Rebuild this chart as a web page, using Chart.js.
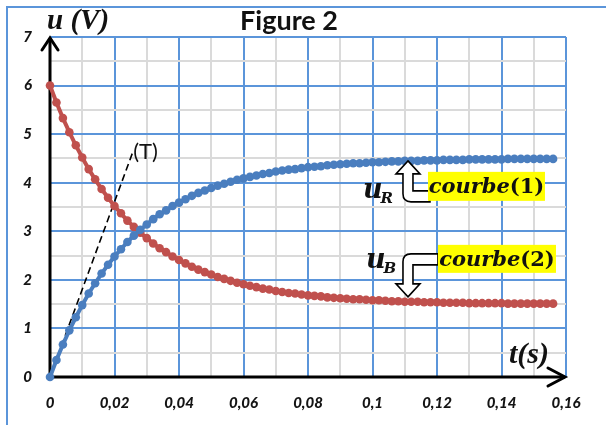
<!DOCTYPE html>
<html>
<head>
<meta charset="utf-8">
<script src="https://cdn.jsdelivr.net/npm/chart.js@4/dist/chart.umd.min.js"></script>
<style>
  html, body { margin: 0; padding: 0; background: #fff; }
  #wrap { width: 606px; height: 425px; }
</style>
</head>
<body>
<div id="wrap"><canvas id="c" width="606" height="425"></canvas></div>
<script>
// Sampling instants t (s)
const times = [
  0, 0.002, 0.004, 0.006, 0.008, 0.010, 0.012, 0.014, 0.016, 0.018,
  0.020, 0.022, 0.024, 0.026, 0.028, 0.030, 0.032, 0.034, 0.036, 0.038,
  0.040, 0.042, 0.044, 0.046, 0.048, 0.050, 0.052, 0.054, 0.056, 0.058,
  0.060, 0.062, 0.064, 0.066, 0.068, 0.070, 0.072, 0.074, 0.076, 0.078,
  0.080, 0.082, 0.084, 0.086, 0.088, 0.090, 0.092, 0.094, 0.096, 0.098,
  0.100, 0.102, 0.104, 0.106, 0.108, 0.110, 0.112, 0.114, 0.116, 0.118,
  0.120, 0.122, 0.124, 0.126, 0.128, 0.130, 0.132, 0.134, 0.136, 0.138,
  0.140, 0.142, 0.144, 0.146, 0.148, 0.150, 0.152, 0.154, 0.156
];

// courbe (1) : u_R (V)
const uR = [
  0, 0.35, 0.67, 0.96, 1.23, 1.48, 1.72, 1.93, 2.13, 2.31,
  2.48, 2.63, 2.78, 2.91, 3.03, 3.14, 3.25, 3.35, 3.43, 3.52,
  3.59, 3.66, 3.73, 3.79, 3.84, 3.89, 3.94, 3.98, 4.02, 4.06,
  4.09, 4.12, 4.15, 4.18, 4.20, 4.23, 4.25, 4.27, 4.28, 4.30,
  4.32, 4.33, 4.34, 4.36, 4.37, 4.38, 4.39, 4.40, 4.40, 4.41,
  4.42, 4.42, 4.43, 4.44, 4.44, 4.45, 4.45, 4.45, 4.46, 4.46,
  4.46, 4.47, 4.47, 4.47, 4.47, 4.48, 4.48, 4.48, 4.48, 4.48,
  4.48, 4.49, 4.49, 4.49, 4.49, 4.49, 4.49, 4.49, 4.49
];

// courbe (2) : u_B (V)
const uB = [
  6, 5.65, 5.33, 5.04, 4.77, 4.52, 4.28, 4.07, 3.87, 3.69,
  3.52, 3.37, 3.22, 3.09, 2.97, 2.86, 2.75, 2.65, 2.57, 2.48,
  2.41, 2.34, 2.27, 2.21, 2.16, 2.11, 2.06, 2.02, 1.98, 1.94,
  1.91, 1.88, 1.85, 1.82, 1.80, 1.77, 1.75, 1.73, 1.72, 1.70,
  1.68, 1.67, 1.66, 1.64, 1.63, 1.62, 1.61, 1.60, 1.60, 1.59,
  1.58, 1.58, 1.57, 1.56, 1.56, 1.55, 1.55, 1.55, 1.54, 1.54,
  1.54, 1.53, 1.53, 1.53, 1.53, 1.52, 1.52, 1.52, 1.52, 1.52,
  1.52, 1.51, 1.51, 1.51, 1.51, 1.51, 1.51, 1.51, 1.51
];

// Tangent (T) at the origin
const tangentT = [0, 0.0255];
const tangentU = [0, 4.6];

// Axis ranges and graduations
const xMin = 0, xMax = 0.16, xStep = 0.01;
const yMin = 0, yMax = 7, yStep = 0.5;

const BLUE = '#4A7EBF';
const RED = '#C0504D';
const GRID_MAJOR = '#5B95DA';
const GRID_MINOR = '#DADADA';

const toXY = (xs, ys) => xs.map((x, i) => ({ x: x, y: ys[i] }));

function fmtComma(v) {
  const r = Math.round(v * 100) / 100;
  return String(r).replace('.', ',');
}

function bentArrow(c, tx, ty, s, barFarY, barEndX) {
  // s = 1: head points up, bar at the bottom; s = -1: head points down, bar at the top
  const hw = 12, hh = 13, sw = 5, bt = 11, r = 8;
  c.beginPath();
  c.moveTo(tx, ty);
  c.lineTo(tx + hw, ty + s * hh);
  c.lineTo(tx + sw, ty + s * hh);
  c.lineTo(tx + sw, barFarY - s * bt);
  c.lineTo(barEndX, barFarY - s * bt);
  c.lineTo(barEndX, barFarY);
  c.lineTo(tx - sw + r, barFarY);
  c.quadraticCurveTo(tx - sw, barFarY, tx - sw, barFarY - s * r);
  c.lineTo(tx - sw, ty + s * hh);
  c.lineTo(tx - hw, ty + s * hh);
  c.closePath();
  c.fillStyle = '#fff';
  c.fill();
  c.lineWidth = 1.6;
  c.strokeStyle = '#000';
  c.lineJoin = 'miter';
  c.stroke();
}

function subLabel(c, x, y, main, sub) {
  c.fillStyle = '#111';
  c.textAlign = 'left';
  c.textBaseline = 'alphabetic';
  c.font = 'italic bold 27px "DejaVu Serif"';
  c.fillText(main, x, y);
  const w = c.measureText(main).width;
  c.font = 'italic bold 15px "DejaVu Serif"';
  c.fillText(sub, x + w - 2, y + 5);
}

function highlighted(c, x, y, w, h, word, num) {
  c.fillStyle = '#FFFF00';
  c.fillRect(x, y, w, h);
  c.fillStyle = '#111';
  c.textBaseline = 'alphabetic';
  c.textAlign = 'left';
  c.font = 'italic bold 21px "DejaVu Serif"';
  const w1 = c.measureText(word).width;
  c.font = 'bold 21px "DejaVu Serif"';
  const w2 = c.measureText(num).width;
  const x0 = x + (w - w1 - w2) / 2;
  const base = y + h / 2 + 7;
  c.font = 'italic bold 21px "DejaVu Serif"';
  c.fillText(word, x0, base);
  c.font = 'bold 21px "DejaVu Serif"';
  c.fillText(num, x0 + w1, base);
}

const decor = {
  id: 'decor',
  beforeDraw(chart) {
    const c = chart.ctx;
    c.save();
    c.fillStyle = '#fff';
    c.fillRect(0, 0, chart.width, chart.height);
    c.strokeStyle = '#5B95DA';
    c.lineWidth = 2;
    c.beginPath();
    c.moveTo(7, chart.height);
    c.lineTo(7, 7);
    c.lineTo(chart.width, 7);
    c.stroke();
    c.restore();
  },
  beforeDatasetsDraw(chart) {
    // axes with arrow heads
    const c = chart.ctx;
    const a = chart.chartArea;
    c.save();
    c.strokeStyle = '#000';
    c.lineWidth = 3;
    c.lineCap = 'butt';
    c.beginPath();
    c.moveTo(a.left, a.bottom);
    c.lineTo(a.left, a.top + 1);
    c.moveTo(a.left, a.bottom);
    c.lineTo(a.right - 1, a.bottom);
    c.stroke();
    c.lineCap = 'round';
    c.lineJoin = 'miter';
    c.beginPath();
    c.moveTo(a.left - 8, a.top + 13);
    c.lineTo(a.left, a.top + 1);
    c.lineTo(a.left + 8, a.top + 13);
    c.moveTo(a.right - 18, a.bottom - 9);
    c.lineTo(a.right - 1, a.bottom);
    c.lineTo(a.right - 18, a.bottom + 9);
    c.stroke();
    c.restore();
  },
  afterDraw(chart) {
    const c = chart.ctx;
    const xs = chart.scales.x, ys = chart.scales.y;
    const a = chart.chartArea;
    c.save();

    // Title
    c.fillStyle = '#111';
    c.font = 'bold 27px Lato';
    c.textAlign = 'center';
    c.textBaseline = 'alphabetic';
    c.fillText('Figure 2', 289, 30);

    // Axis names
    c.textAlign = 'left';
    c.font = 'italic bold 29px "Liberation Serif"';
    c.fillText('u (V)', a.left - 3, 29);
    c.font = 'italic bold 30px "Liberation Serif"';
    c.fillText('t(s)', a.right - 57, a.bottom - 14);

    // Tangent name
    const tEnd = { x: xs.getPixelForValue(tangentT[1]), y: ys.getPixelForValue(tangentU[1]) };
    c.font = '22px Lato';
    c.fillText('(T)', tEnd.x + 1, tEnd.y + 5);

    // Curve (1) annotation
    const p1 = { x: xs.getPixelForValue(0.111), y: ys.getPixelForValue(4.45) };
    bentArrow(c, p1.x, p1.y, 1, p1.y + 41, p1.x + 22);
    highlighted(c, p1.x + 20, p1.y + 11, 117, 29, 'courbe', '(1)');
    subLabel(c, p1.x - 45, p1.y + 37, 'u', 'R');

    // Curve (2) annotation
    const p2 = { x: xs.getPixelForValue(0.111), y: ys.getPixelForValue(1.65) };
    bentArrow(c, p2.x, p2.y, -1, p2.y - 43, p2.x + 30);
    highlighted(c, p2.x + 30, p2.y - 52, 118, 28, 'courbe', '(2)');
    subLabel(c, p2.x - 42, p2.y - 29, 'u', 'B');

    c.restore();
  }
};

const isMajorX = v => Math.round(v * 100) % 2 === 0;
const isMajorY = v => Math.abs(v - Math.round(v)) < 1e-6;

new Chart(document.getElementById('c'), {
  type: 'scatter',
  data: {
    datasets: [
      {
        label: 'u_R',
        data: toXY(times, uR),
        showLine: true,
        borderColor: BLUE,
        backgroundColor: BLUE,
        borderWidth: 4,
        pointRadius: 4.3,
        pointBorderWidth: 0,
        clip: false
      },
      {
        label: 'u_B',
        data: toXY(times, uB),
        showLine: true,
        borderColor: RED,
        backgroundColor: RED,
        borderWidth: 4,
        pointRadius: 4.3,
        pointBorderWidth: 0,
        clip: false
      },
      {
        label: '(T)',
        data: toXY(tangentT, tangentU),
        showLine: true,
        borderColor: '#000',
        borderWidth: 1.6,
        borderDash: [7, 4],
        pointRadius: 0,
        clip: false
      }
    ]
  },
  options: {
    responsive: false,
    animation: false,
    devicePixelRatio: 1,
    layout: { padding: { left: 8, right: 40, top: 37, bottom: 8 } },
    plugins: { legend: { display: false }, tooltip: { enabled: false }, title: { display: false } },
    scales: {
      x: {
        type: 'linear',
        min: xMin, max: xMax,
        afterFit: s => { s.height = 40; },
        border: { display: false },
        grid: {
          drawTicks: false,
          lineWidth: 2,
          color: ctx => (ctx.tick && isMajorX(ctx.tick.value)) ? GRID_MAJOR : GRID_MINOR
        },
        ticks: {
          stepSize: xStep,
          autoSkip: false,
          maxRotation: 0,
          padding: 17,
          color: '#141414',
          font: { family: 'Lato', size: 15, style: 'italic', weight: '900' },
          callback: v => isMajorX(v) ? fmtComma(v) : ''
        }
      },
      y: {
        type: 'linear',
        min: yMin, max: yMax,
        afterFit: s => { s.width = 42; },
        border: { display: false },
        grid: {
          drawTicks: false,
          lineWidth: 2,
          color: ctx => (ctx.tick && isMajorY(ctx.tick.value)) ? GRID_MAJOR : GRID_MINOR
        },
        ticks: {
          stepSize: yStep,
          autoSkip: false,
          padding: 18,
          color: '#141414',
          font: { family: 'Lato', size: 15, style: 'italic', weight: '900' },
          callback: v => isMajorY(v) ? String(Math.round(v)) : ''
        }
      }
    }
  },
  plugins: [decor]
});
</script>
</body>
</html>
